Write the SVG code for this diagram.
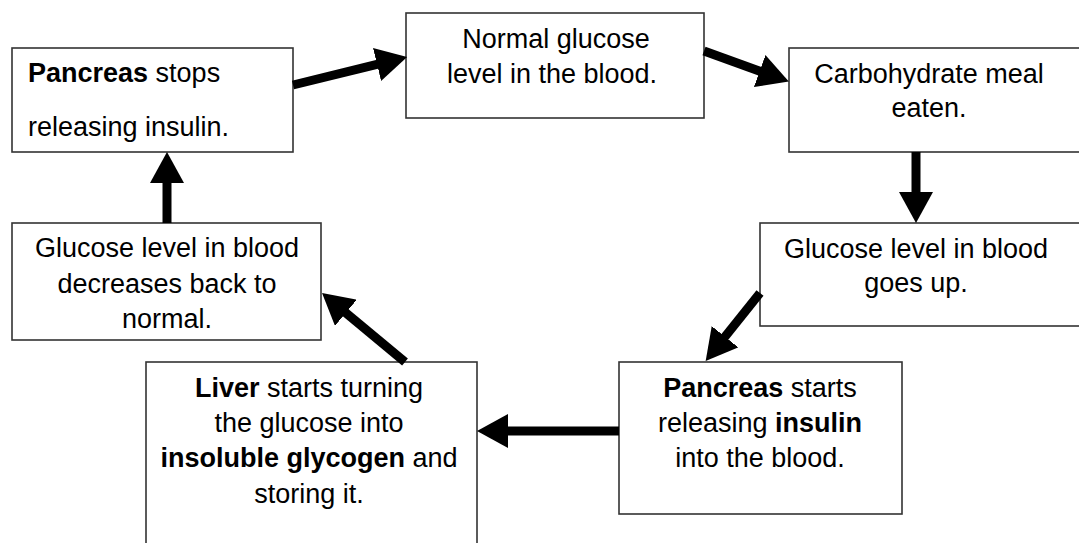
<svg xmlns="http://www.w3.org/2000/svg" width="1079" height="543" viewBox="0 0 1079 543">
<defs>
<marker id="ah" markerUnits="userSpaceOnUse" markerWidth="32" markerHeight="34" refX="1" refY="17" orient="auto" viewBox="0 0 32 34">
<path d="M0,0 L31,17 L0,34 Z" fill="#000"/>
</marker>
<style>
.box{fill:#fff;stroke:#333;stroke-width:1.6}
.t{font-family:"Liberation Sans",Arial,sans-serif;font-size:27px;fill:#000}
.c{text-anchor:middle}
.b{font-weight:bold}
.con line{stroke:#000;stroke-width:9;marker-end:url(#ah)}
</style>
</defs>
<rect width="1079" height="543" fill="#fff"/>
<g id="n1">
<rect class="box" x="12" y="48" width="281" height="104"/>
<text class="t" x="28" y="82"><tspan class="b">Pancreas</tspan> stops</text>
<text class="t" x="28" y="136">releasing insulin.</text>
</g>
<g id="n2">
<rect class="box" x="406" y="13" width="298" height="105"/>
<text class="t c" x="556" y="48">Normal glucose</text>
<text class="t c" x="552" y="83">level in the blood.</text>
</g>
<g id="n3">
<rect class="box" x="789" y="48" width="300" height="104"/>
<text class="t c" x="929" y="83">Carbohydrate meal</text>
<text class="t c" x="929" y="117">eaten.</text>
</g>
<g id="n4">
<rect class="box" x="760" y="223" width="330" height="103"/>
<text class="t c" x="916" y="258">Glucose level in blood</text>
<text class="t c" x="916" y="292">goes up.</text>
</g>
<g id="n5">
<rect class="box" x="619" y="362" width="283" height="152"/>
<text class="t c" x="760" y="397"><tspan class="b">Pancreas</tspan> starts</text>
<text class="t c" x="760" y="432">releasing <tspan class="b">insulin</tspan></text>
<text class="t c" x="760" y="467">into the blood.</text>
</g>
<g id="n6">
<rect class="box" x="146" y="362" width="331" height="200"/>
<text class="t c" x="309" y="397"><tspan class="b">Liver</tspan> starts turning</text>
<text class="t c" x="309" y="432">the glucose into</text>
<text class="t c" x="309" y="467"><tspan class="b">insoluble glycogen</tspan> and</text>
<text class="t c" x="309" y="503">storing it.</text>
</g>
<g id="n7">
<rect class="box" x="12" y="223" width="309" height="117"/>
<text class="t c" x="167" y="257">Glucose level in blood</text>
<text class="t c" x="167" y="293">decreases back to</text>
<text class="t c" x="167" y="328">normal.</text>
</g>
<g id="connectors" class="con">
<line x1="293" y1="85" x2="378" y2="64.2"/>
<line x1="704" y1="51" x2="760.6" y2="71.4"/>
<line x1="916" y1="152" x2="916" y2="193"/>
<line x1="760" y1="293" x2="724.4" y2="337.5"/>
<line x1="619" y1="431" x2="507" y2="431"/>
<line x1="405" y1="362" x2="345.1" y2="312.2"/>
<line x1="167" y1="223" x2="167" y2="182"/>
</g>
</svg>
